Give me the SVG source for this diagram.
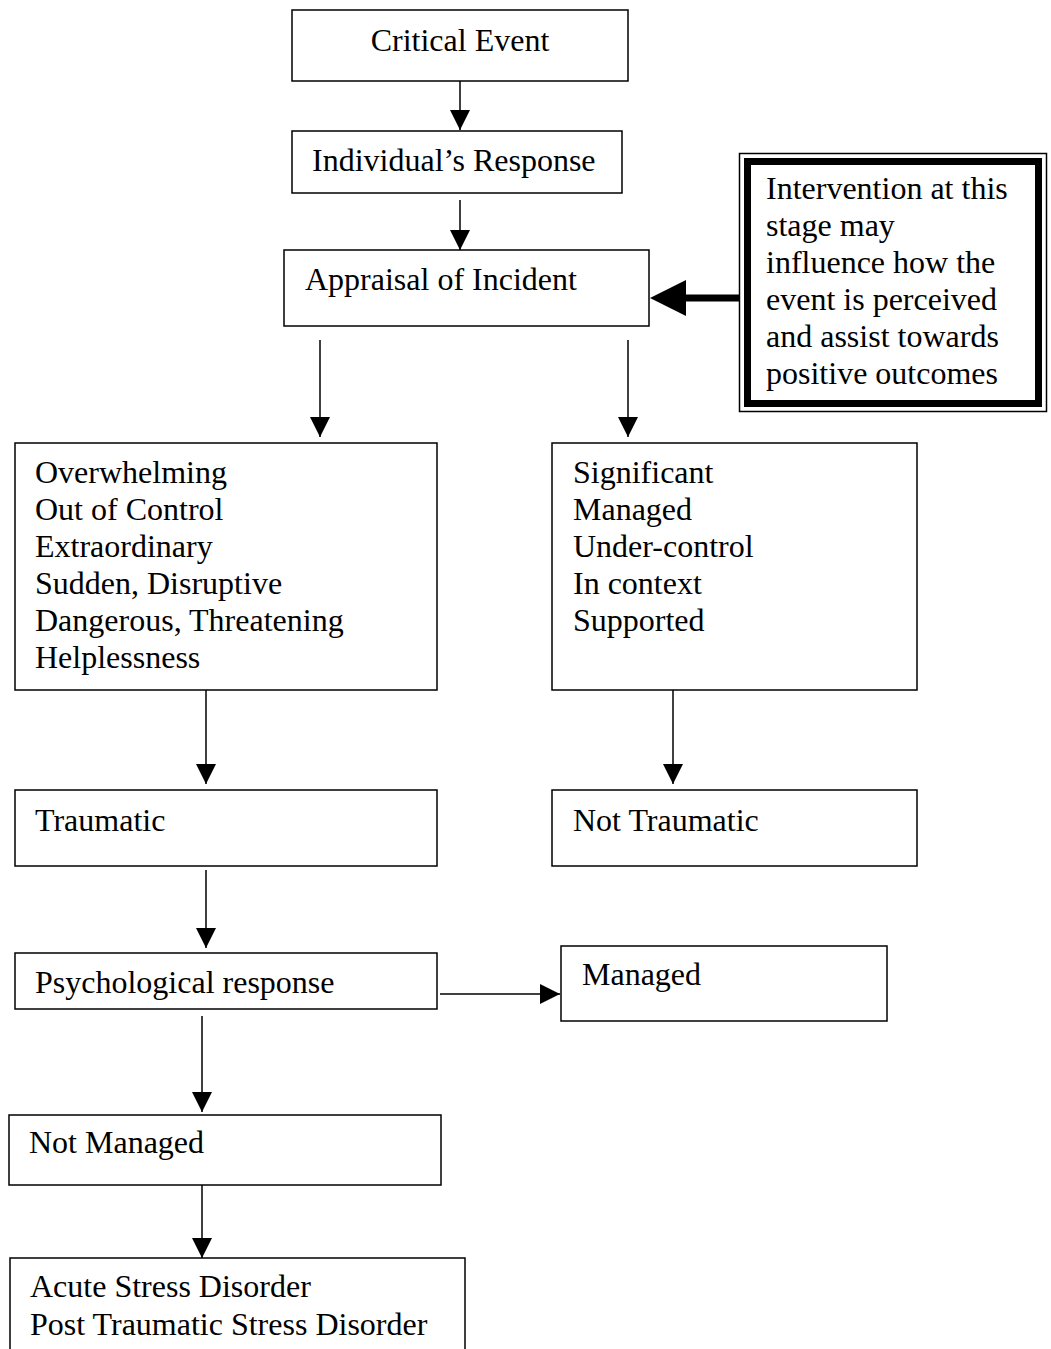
<svg xmlns="http://www.w3.org/2000/svg" width="1051" height="1349" viewBox="0 0 1051 1349">
<style>
.box{fill:#fff;stroke:#000;stroke-width:1.5}
.t{font-family:"Liberation Serif","Times New Roman",serif;font-size:32px;fill:#000}
.c{stroke:#000;stroke-width:1.5;fill:none;marker-end:url(#ah)}
</style>
<defs>
<marker id="ah" markerUnits="userSpaceOnUse" markerWidth="22" markerHeight="22" viewBox="0 0 22 22" refX="20" refY="11" orient="auto">
<path d="M0,1 L20,11 L0,21 Z" fill="#000"/>
</marker>
</defs>
<rect width="1051" height="1349" fill="#fff"/>
<g id="connectors">
<line class="c" x1="460" y1="81" x2="460" y2="130"/>
<line class="c" x1="460" y1="200" x2="460" y2="250"/>
<line class="c" x1="320" y1="340" x2="320" y2="437"/>
<line class="c" x1="628" y1="340" x2="628" y2="437"/>
<line class="c" x1="206" y1="688" x2="206" y2="784"/>
<line class="c" x1="673" y1="690" x2="673" y2="784"/>
<line class="c" x1="206" y1="870" x2="206" y2="948"/>
<line class="c" x1="440" y1="994" x2="560" y2="994"/>
<line class="c" x1="202" y1="1016" x2="202" y2="1112"/>
<line class="c" x1="202" y1="1185" x2="202" y2="1258"/>
<line x1="741" y1="298" x2="682" y2="298" stroke="#000" stroke-width="7"/>
<path d="M650,298 L686,280 L686,316 Z" fill="#000"/>
</g>
<g id="n-critical"><rect class="box" x="292" y="10" width="336" height="71"/><text class="t" x="460" y="51" text-anchor="middle">Critical Event</text></g>
<g id="n-response"><rect class="box" x="292" y="131" width="330" height="62"/><text class="t" x="312" y="171">Individual’s Response</text></g>
<g id="n-appraisal"><rect class="box" x="284" y="250" width="365" height="76"/><text class="t" x="305" y="290">Appraisal of Incident</text></g>
<g id="n-intervention">
<rect x="739.5" y="153.5" width="307" height="258" fill="#fff" stroke="#000" stroke-width="1.5"/>
<rect x="747.5" y="161.5" width="291" height="242" fill="none" stroke="#000" stroke-width="7"/>
<text class="t"><tspan x="766" y="199">Intervention at this</tspan><tspan x="766" y="236">stage may</tspan><tspan x="766" y="273">influence how the</tspan><tspan x="766" y="310">event is perceived</tspan><tspan x="766" y="347">and assist towards</tspan><tspan x="766" y="384">positive outcomes</tspan></text>
</g>
<g id="n-overwhelming"><rect class="box" x="15" y="443" width="422" height="247"/>
<text class="t"><tspan x="35" y="483">Overwhelming</tspan><tspan x="35" y="520">Out of Control</tspan><tspan x="35" y="557">Extraordinary</tspan><tspan x="35" y="594">Sudden, Disruptive</tspan><tspan x="35" y="631">Dangerous, Threatening</tspan><tspan x="35" y="668">Helplessness</tspan></text></g>
<g id="n-significant"><rect class="box" x="552" y="443" width="365" height="247"/>
<text class="t"><tspan x="573" y="483">Significant</tspan><tspan x="573" y="520">Managed</tspan><tspan x="573" y="557">Under-control</tspan><tspan x="573" y="594">In context</tspan><tspan x="573" y="631">Supported</tspan></text></g>
<g id="n-traumatic"><rect class="box" x="15" y="790" width="422" height="76"/><text class="t" x="35" y="831">Traumatic</text></g>
<g id="n-nottraumatic"><rect class="box" x="552" y="790" width="365" height="76"/><text class="t" x="573" y="831">Not Traumatic</text></g>
<g id="n-psych"><rect class="box" x="15" y="953" width="422" height="56"/><text class="t" x="35" y="993">Psychological response</text></g>
<g id="n-managed"><rect class="box" x="561" y="946" width="326" height="75"/><text class="t" x="582" y="985">Managed</text></g>
<g id="n-notmanaged"><rect class="box" x="9" y="1115" width="432" height="70"/><text class="t" x="29" y="1153">Not Managed</text></g>
<g id="n-disorder"><rect class="box" x="10" y="1258" width="455" height="110"/>
<text class="t"><tspan x="30" y="1297">Acute Stress Disorder</tspan><tspan x="30" y="1335">Post Traumatic Stress Disorder</tspan></text></g>
</svg>
